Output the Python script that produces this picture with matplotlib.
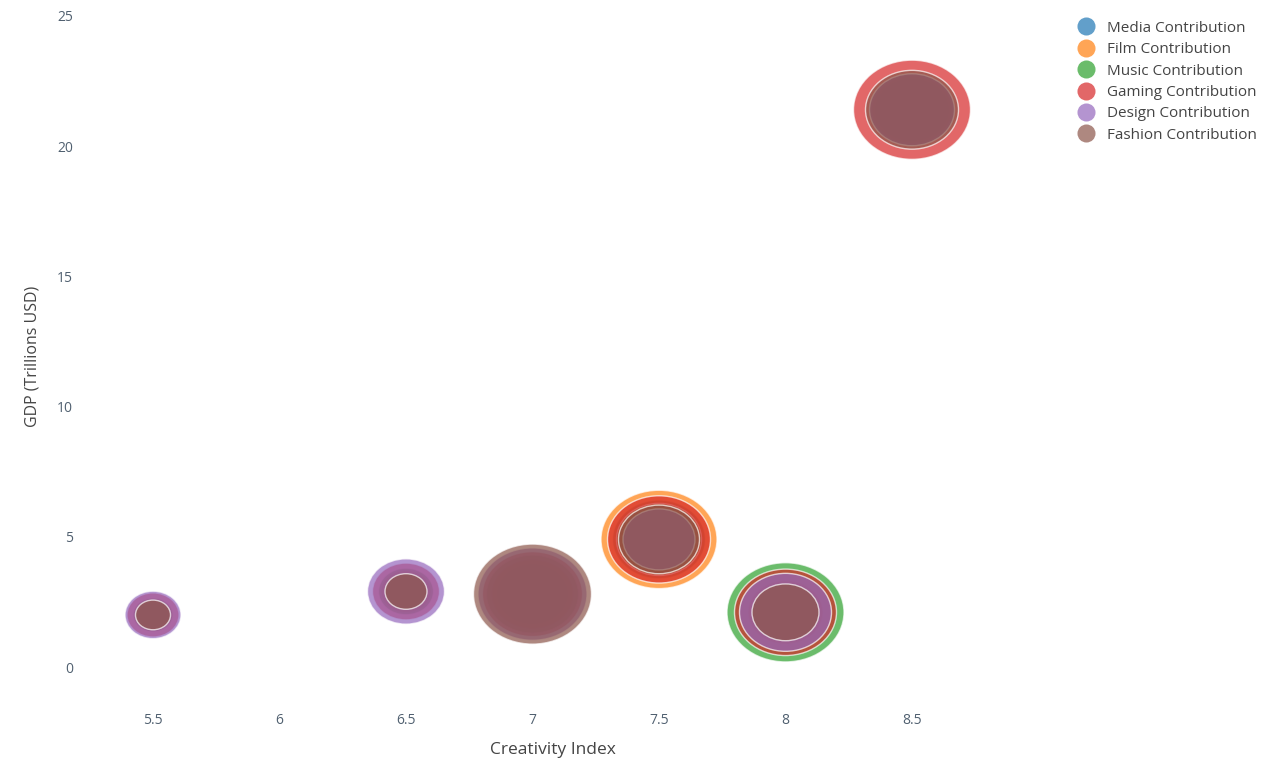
import matplotlib.pyplot as plt
import numpy as np
from matplotlib.path import Path
from matplotlib.lines import Line2D

plt.rcParams['font.family'] = ['Open Sans', 'DejaVu Sans']

# Data
creativity = [5.5, 6.5, 7.0, 7.5, 8.0, 8.5]
gdp = [2.0, 2.9, 2.8, 4.9, 2.1, 21.4]

media = [3.0, 4.5, 7.2, 9.3, 7.0, 7.5]
film = [3.5, 5.0, 8.2, 11.6, 7.5, 8.0]
music = [4.0, 5.5, 9.2, 8.5, 11.7, 8.5]
gaming = [5.2, 6.7, 10.0, 10.3, 10.2, 11.7]
design = [5.6, 7.7, 10.9, 7.2, 9.2, 8.5]
fashion = [3.5, 4.2, 11.8, 8.1, 6.7, 9.3]

series = [
    ('Media Contribution', media, '#1f77b4'),
    ('Film Contribution', film, '#ff7f0e'),
    ('Music Contribution', music, '#2ca02c'),
    ('Gaming Contribution', gaming, '#d62728'),
    ('Design Contribution', design, '#9467bd'),
    ('Fashion Contribution', fashion, '#8c564b'),
]

# the reference is stretched horizontally, so bubbles are ellipses
circ = Path.unit_circle()
ellipse = Path(circ.vertices * np.array([1.18, 1.0]), circ.codes)

dpi = 100
fig = plt.figure(figsize=(12.72, 7.6), dpi=dpi)
ax = fig.add_axes([95 / 1272, 1 - 702 / 760, 916 / 1272, 692 / 760])

px_per_val = 10  # contribution value -> bubble width in px
for name, vals, color in series:
    sizes = [(v * px_per_val * 72 / dpi) ** 2 for v in vals]
    ax.scatter(creativity, gdp, s=sizes, marker=ellipse, color=color,
               alpha=0.7, edgecolors='white', linewidths=1.0, label=name)

ax.set_xlim(5.5 - 58 / 253, 8.5 + 99 / 253)
ax.set_ylim(-35 / 26.05, 25 + 6 / 26.05)
ax.set_xticks([5.5, 6, 6.5, 7, 7.5, 8, 8.5])
ax.set_xticklabels(['5.5', '6', '6.5', '7', '7.5', '8', '8.5'])
ax.set_yticks([0, 5, 10, 15, 20, 25])
for s in ax.spines.values():
    s.set_visible(False)
ax.tick_params(length=0, labelsize=10, labelcolor='#506070')
ax.tick_params(axis='y', pad=16)
ax.tick_params(axis='x', pad=8)
ax.set_xlabel('Creativity Index', fontsize=12.5, color='#444444', labelpad=10)
ax.set_ylabel('GDP (Trillions USD)', fontsize=11.5, color='#444444', labelpad=12)

handles = [Line2D([], [], marker='o', linestyle='none', markersize=13,
                  markerfacecolor=c, markeredgecolor='none', alpha=0.7)
           for _, _, c in series]
leg = fig.legend(handles, [n for n, _, _ in series], loc='upper left',
                 bbox_to_anchor=(1063 / 1272, 1 - 7 / 760), frameon=False,
                 fontsize=11, labelspacing=0.42, handletextpad=0.8,
                 handlelength=1.2)
for t in leg.get_texts():
    t.set_color('#444444')

fig.savefig('out.png', dpi=dpi)
